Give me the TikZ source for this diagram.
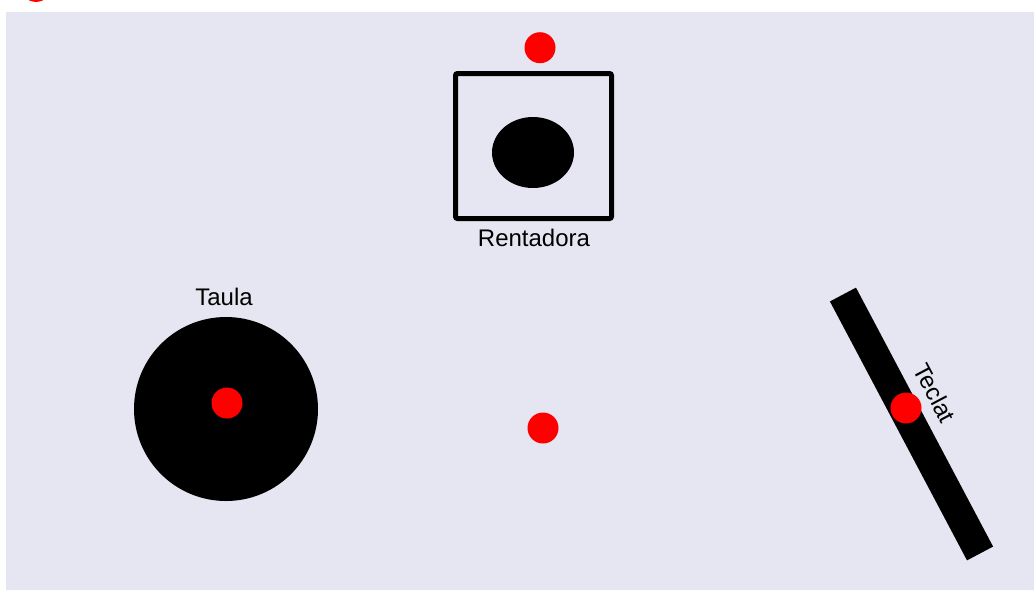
\documentclass[tikz,border=0pt]{standalone}
\usepackage{fontspec}
\setmainfont{Liberation Sans}
\usetikzlibrary{shapes.geometric}
\definecolor{roombg}{HTML}{E6E6F2}

\tikzset{
  marker/.style={circle, fill=red, inner sep=0pt, minimum size=15.5pt},
  furniture/.style={fill=black, inner sep=0pt},
  tag/.style={font=\fontsize{12}{14}\selectfont, inner sep=0pt},
}

\begin{document}
\begin{tikzpicture}[x=0.5pt, y=-0.5pt]

	% Room.
	\clip (0,0) rectangle (1034,591);
	\fill[roombg] (6,12) rectangle (1034,590);

	% Furniture definitions.
	\node[furniture, circle, minimum size=92pt]          (taula) at (226,409) {};
	\node[draw, line width=2.5pt, rounded corners=1pt,
	      minimum width=78pt, minimum height=72.5pt,
	      inner sep=0pt]                             (rentadora) at (533.5,146) {};
	\node[furniture, ellipse, minimum width=41pt,
	      minimum height=35.5pt]                        (tambor) at (533,152.5) {};
	\node[furniture, rectangle, rotate=-62.1,
	      minimum width=146.5pt, minimum height=14.75pt] (teclat) at (911.5,424) {};

	% Label definitions.
	\node[tag, anchor=base]         (taula_tag) at (224,305) {Taula};
	\node[tag, anchor=base]     (rentadora_tag) at (534,246) {Rentadora};
	\node[tag, rotate=-62.1]       (teclat_tag) at (935,393) {Teclat};

	% Marker definitions.
	\node[marker]     (m_corner) at (36,-13.6) {};
	\node[marker]  (m_rentadora) at (540,47.7) {};
	\node[marker]      (m_taula) at (227,403) {};
	\node[marker]     (m_centre) at (543,428) {};
	\node[marker]     (m_teclat) at (906,408) {};

\end{tikzpicture}
\end{document}
